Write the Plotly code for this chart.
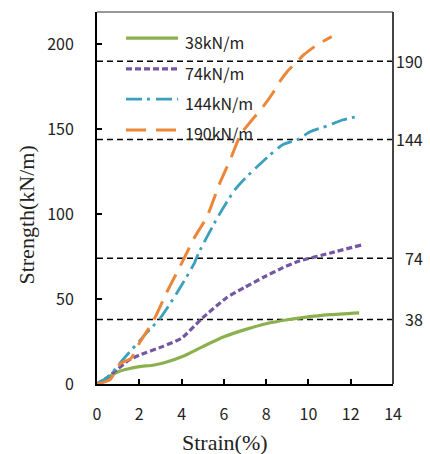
import plotly.graph_objects as go

# Strain (%) / strength (kN/m) curves for four geogrid grades
series_names = ["38kN/m", "74kN/m", "144kN/m", "190kN/m"]

strain_38 = [0, 0.3, 0.6, 1.0, 1.5, 2.0, 2.7, 3.3, 4.1, 5.0, 6.0, 7.0, 8.0, 9.0, 9.8, 11.0, 12.4]
strength_38 = [0, 2, 4.5, 7.2, 9, 10.2, 11.2, 13, 16.5, 22, 27.8, 32, 35.5, 37.8, 39.2, 40.8, 41.9]

strain_74 = [0, 0.5, 1.0, 1.5, 2.0, 3.1, 4.0, 5.0, 6.1, 7.0, 7.9, 8.8, 9.6, 11.0, 12.5]
strength_74 = [0, 4, 9, 14, 17, 22, 27, 39, 50.5, 57, 63, 68.5, 72.5, 77, 81.8]

strain_144 = [0, 0.6, 1.2, 2.2, 3.0, 3.8, 4.6, 4.8, 5.7, 6.5, 7.0, 8.1, 8.8, 9.5, 10.1, 10.9, 11.6, 12.3]
strength_144 = [0, 5, 14, 28, 39, 54, 71, 77, 98, 114, 121, 134, 141, 144, 148.6, 152, 155.4, 157.4]

strain_190 = [0, 0.6, 1.1, 1.6, 2.0, 2.7, 3.3, 4.0, 4.6, 5.2, 5.8, 6.3, 6.8, 7.3, 7.9, 8.3, 8.7, 9.0, 9.4, 9.8, 10.4, 11.1]
strength_190 = [0, 2.4, 12, 15, 24, 38, 54, 71, 86, 98.5, 118, 132, 147, 155, 164, 171, 179, 184, 189, 194, 199.6, 204.5]

# Nominal strengths marked by horizontal dashed lines
nominal_values = [190, 144, 74, 38]
nominal_labels = ["190", "144", "74", "38"]

x_ticks = [0, 2, 4, 6, 8, 10, 12, 14]
y_ticks = [0, 50, 100, 150, 200]

colors = ["#8db04f", "#7456a2", "#3aa0be", "#ec8638"]
dashes = ["solid", "6px,3px", "16px,5px,3px,6px", "20px,10px"]
widths = [3.2, 3.2, 2.8, 3.0]

X_RANGE = [0, 14]
Y_RANGE = [0, 219]

SANS = "Noto Sans CJK JP, Noto Sans, Liberation Sans, sans-serif"
SERIF = "Liberation Serif, DejaVu Serif, serif"

fig = go.Figure()

for v in nominal_values:
    fig.add_trace(go.Scatter(
        x=X_RANGE, y=[v, v], mode="lines",
        line=dict(color="black", width=1.5, dash="6px,4px"),
        showlegend=False, hoverinfo="skip",
    ))

curves = [(strain_38, strength_38), (strain_74, strength_74),
          (strain_144, strength_144), (strain_190, strength_190)]
for (xs, ys), name, c, d, w in zip(curves, series_names, colors, dashes, widths):
    fig.add_trace(go.Scatter(
        x=xs, y=ys, mode="lines", name=name,
        line=dict(color=c, width=w, dash=d, shape="spline", smoothing=0.6),
        showlegend=False,
    ))

shapes = []
annotations = []

# Legend block (line sample + label) in the upper left of the plot area
leg_line_y = [0.930, 0.847, 0.766, 0.683]
leg_text_y = [0.919, 0.836, 0.756, 0.675]
for name, c, d, w, ly, ty in zip(series_names, colors, dashes, widths, leg_line_y, leg_text_y):
    shapes.append(dict(type="line", xref="paper", yref="paper",
                       x0=0.098, x1=0.274, y0=ly, y1=ly, layer="above",
                       line=dict(color=c, width=w, dash=d)))
    annotations.append(dict(xref="paper", yref="paper", x=0.291, y=ty,
                            xanchor="left", yanchor="middle", showarrow=False,
                            text=name,
                            font=dict(family=SANS, size=16, color="#222222")))

# Labels for the nominal lines, right of the frame
for v, lab in zip(nominal_values, nominal_labels):
    annotations.append(dict(xref="paper", yref="y", x=1.108, y=v,
                            xanchor="right", yanchor="middle", showarrow=False,
                            text=lab,
                            font=dict(family=SANS, size=16, color="#222222")))

# Frame: right and top edges
shapes.append(dict(type="line", xref="paper", yref="paper", x0=1, x1=1, y0=0, y1=1,
                   line=dict(color="#444444", width=2)))
shapes.append(dict(type="line", xref="paper", yref="paper", x0=0, x1=1, y0=1, y1=1,
                   line=dict(color="#333333", width=1)))

# Axis titles
annotations.append(dict(xref="paper", yref="paper", x=(225 - 97) / 296, y=-0.158,
                        xanchor="center", yanchor="middle", showarrow=False,
                        text="Strain(%)",
                        font=dict(family=SERIF, size=22, color="#222222")))
annotations.append(dict(xref="paper", yref="paper", x=-0.238, y=(384 - 215) / 372,
                        xanchor="center", yanchor="middle", showarrow=False,
                        text="Strength(kN/m)", textangle=-90,
                        font=dict(family=SERIF, size=22, color="#222222")))

tick_font = dict(family=SANS, size=16, color="#222222")

fig.update_layout(
    width=430, height=454,
    margin=dict(l=97, r=37, t=12, b=70),
    paper_bgcolor="white", plot_bgcolor="white",
    shapes=shapes, annotations=annotations,
    showlegend=False,
    xaxis=dict(range=X_RANGE, tickvals=x_ticks, ticks="inside", ticklen=5,
               tickwidth=1.5, tickcolor="black", showline=True, linecolor="black",
               linewidth=2, showgrid=False, zeroline=False, tickfont=tick_font,
               ticklabelstandoff=15),
    yaxis=dict(range=Y_RANGE, tickvals=y_ticks, ticks="inside", ticklen=5,
               tickwidth=1.5, tickcolor="black", showline=True, linecolor="black",
               linewidth=2, showgrid=False, zeroline=False, tickfont=tick_font,
               ticklabelstandoff=18),
)

fig.write_html("out.html")
